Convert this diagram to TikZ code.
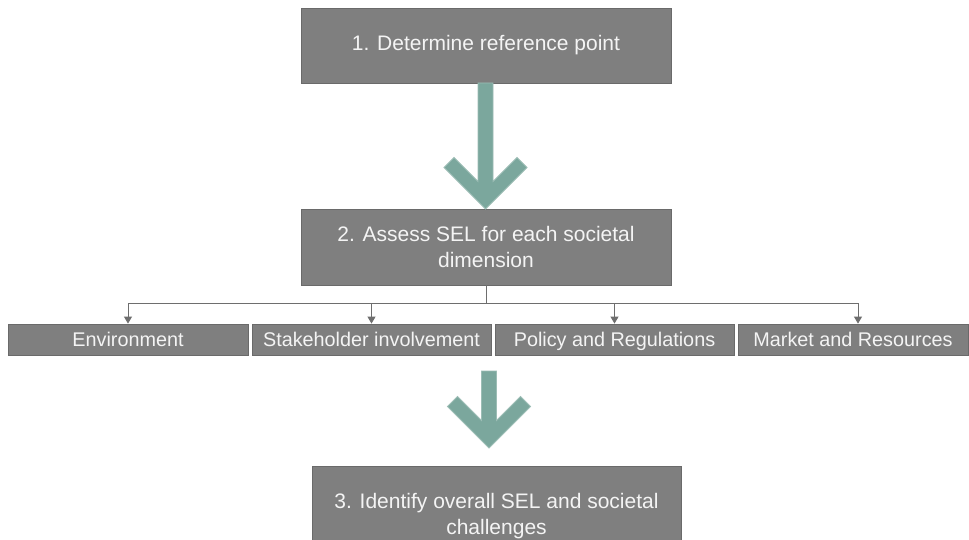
\documentclass[tikz,border=0pt]{standalone}
\usepackage{fontspec}
\setmainfont{Liberation Sans}
\usetikzlibrary{arrows.meta,calc}
\definecolor{boxfill}{HTML}{7F7F7F}
\definecolor{boxline}{HTML}{6A6A6A}
\definecolor{boxtext}{HTML}{F4F4F4}
\definecolor{arrowfill}{HTML}{7BA79D}
\definecolor{arrowline}{HTML}{9CBDB5}
\definecolor{connline}{HTML}{6E6E6E}
\tikzset{
  bigbox/.style={draw=boxline, line width=0.8pt, fill=boxfill, text=boxtext,
    minimum width=370pt, minimum height=75pt, inner sep=0pt, align=center,
    font=\fontsize{21}{26}\selectfont},
  smallbox/.style={draw=boxline, line width=0.8pt, fill=boxfill, text=boxtext,
    minimum height=31pt, inner sep=0pt, align=center,
    text height=18.2pt, text depth=4pt,
    font=\fontsize{19.8}{24}\selectfont},
  conn/.style={draw=connline, line width=0.9pt},
  connarrow/.style={conn, -{Triangle[width=8pt,length=7pt]}},
  chevron/.style={fill=arrowfill, draw=arrowline, line width=0.8pt, line join=miter}
}
\newcommand\chevarrow[3]{%
  \path[chevron] (#1-7.5,#2) -- (#1+7.5,#2) -- (#1+7.5,#3-27.5) -- (#1+31.5,#3-51.5)
    -- (#1+41.5,#3-41.5) -- (#1,#3) -- (#1-41.5,#3-41.5) -- (#1-31.5,#3-51.5)
    -- (#1-7.5,#3-27.5) -- cycle;}
\begin{document}
\begin{tikzpicture}[x=1pt,y=-1pt]
\useasboundingbox (0,0) rectangle (969,540);
\clip (0,0) rectangle (969,540);
\fill[white] (0,0) rectangle (969,540);

\node[bigbox] (b1) at (486,45.5) {1. Determine reference point};
\node[bigbox, minimum height=76pt] (b2) at (486,247) {2. Assess SEL for each societal\\dimension};
\node[bigbox, minimum width=369pt, minimum height=100pt] (b3) at (496.5,516) {3. Identify overall SEL and societal\\challenges};

\node[smallbox, minimum width=240pt] (env) at (128,339.5) {Environment};
\node[smallbox, minimum width=239pt] (stk) at (371.5,339.5) {Stakeholder involvement};
\node[smallbox, minimum width=239pt] (pol) at (614.5,339.5) {Policy and Regulations};
\node[smallbox, minimum width=230pt] (mkt) at (853,339.5) {Market and Resources};

% block arrows
\chevarrow{485.5}{83}{209}
\chevarrow{489}{371}{448}

% tree connector
\draw[conn] (b2.south) -- ++(0,18) coordinate (hj);
\coordinate (mktin) at ($(mkt.north)+(5,0)$);
\draw[conn] (hj -| env.north) -- (hj -| mktin);
\draw[connarrow] (hj -| env.north) -- (env.north);
\draw[connarrow] (hj -| stk.north) -- (stk.north);
\draw[connarrow] (hj -| pol.north) -- (pol.north);
\draw[connarrow] (hj -| mktin) -- (mktin);
\end{tikzpicture}
\end{document}
